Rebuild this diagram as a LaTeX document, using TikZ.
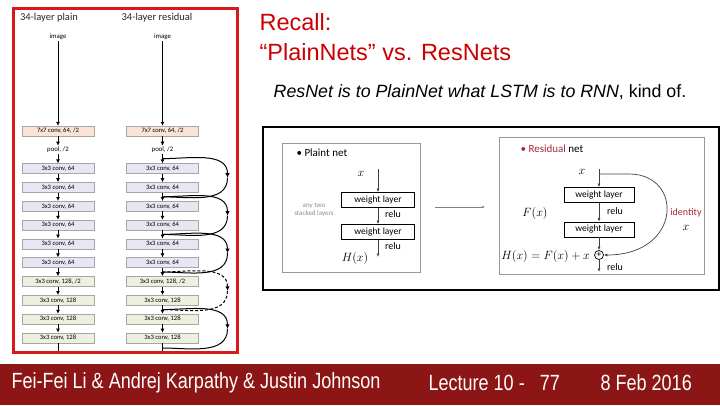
\documentclass[tikz,border=0pt]{standalone}
\usepackage{fontspec}
\setmainfont{Liberation Sans}
\newfontfamily\carlito{Carlito}
\newfontfamily\narrowfont[FakeStretch=0.82]{Liberation Sans}
\usetikzlibrary{arrows.meta,calc}

\definecolor{slidered}{RGB}{204,0,0}
\definecolor{panelred}{RGB}{215,25,25}
\definecolor{barred}{RGB}{140,21,21}
\definecolor{resred}{RGB}{165,40,55}
\definecolor{fillseven}{RGB}{251,228,213}
\definecolor{fillsixtyfour}{RGB}{231,230,242}
\definecolor{filltwentyeight}{RGB}{235,241,222}

\tikzstyle{convbox} = [rectangle, draw=gray!70, minimum width=72pt, minimum height=10pt,
    inner sep=0pt, font=\carlito\fontsize{6.6}{7}\selectfont]
\tikzstyle{conv7} = [convbox, fill=fillseven]
\tikzstyle{conv64} = [convbox, fill=fillsixtyfour]
\tikzstyle{conv128} = [convbox, fill=filltwentyeight]
\tikzstyle{smalltext} = [font=\carlito\fontsize{6.8}{7}\selectfont, inner sep=1pt]
\tikzstyle{coltitle} = [font=\carlito\fontsize{10.5}{12}\selectfont, text=black!85]
\tikzstyle{colarrow} = [-{Latex[length=4pt,width=4pt]}, line width=1pt]
\tikzstyle{skiparrow} = [-{Latex[length=4.5pt,width=4.5pt]}, line width=1pt]
\tikzstyle{skipline} = [line width=1pt]
\tikzstyle{wlayer} = [rectangle, draw, line width=0.8pt, minimum width=73pt, minimum height=15pt,
    inner sep=0pt, font=\carlito\fontsize{9.5}{10}\selectfont]
\tikzstyle{thinarrow} = [-{Latex[length=3.5pt,width=3pt]}, draw=black!75, line width=0.7pt]
\tikzstyle{labeltext} = [font=\carlito\fontsize{10}{11}\selectfont, inner sep=1pt]
\tikzstyle{mathtext} = [font=\fontsize{12}{13}\selectfont, inner sep=1pt]
\tikzstyle{panel} = [draw=gray!80, line width=0.8pt]
\tikzstyle{bartext} = [anchor=west, text=white, font=\narrowfont\fontsize{22}{24}\selectfont]

\begin{document}
\begin{tikzpicture}[x=1pt, y=-1pt, node distance=18.8pt]
    \useasboundingbox (0,0) rectangle (720,405);

    % Left panel: plain column
    \node (ptitle) at (49,18) [coltitle] {34-layer plain};
    \node (pimg) at (58,37) [smalltext] {image};
    \node (p0) at (58,131) [conv7] {7x7 conv, 64, /2};
    \node (ppool) [below of=p0, smalltext] {pool, /2};
    \node (p1) [below of=ppool, conv64] {3x3 conv, 64};
    \node (p2) [below of=p1, conv64] {3x3 conv, 64};
    \node (p3) [below of=p2, conv64] {3x3 conv, 64};
    \node (p4) [below of=p3, conv64] {3x3 conv, 64};
    \node (p5) [below of=p4, conv64] {3x3 conv, 64};
    \node (p6) [below of=p5, conv64] {3x3 conv, 64};
    \node (p7) [below of=p6, conv128] {3x3 conv, 128, /2};
    \node (p8) [below of=p7, conv128] {3x3 conv, 128};
    \node (p9) [below of=p8, conv128] {3x3 conv, 128};
    \node (p10) [below of=p9, conv128] {3x3 conv, 128};
    \coordinate (pend) at (58,351);

    % Left panel: residual column
    \node (rtitle) at (157,18) [coltitle] {34-layer residual};
    \node (rimg) at (162.5,37) [smalltext] {image};
    \node (r0) at (162.5,131) [conv7] {7x7 conv, 64, /2};
    \node (rpool) [below of=r0, smalltext] {pool, /2};
    \node (r1) [below of=rpool, conv64] {3x3 conv, 64};
    \node (r2) [below of=r1, conv64] {3x3 conv, 64};
    \node (r3) [below of=r2, conv64] {3x3 conv, 64};
    \node (r4) [below of=r3, conv64] {3x3 conv, 64};
    \node (r5) [below of=r4, conv64] {3x3 conv, 64};
    \node (r6) [below of=r5, conv64] {3x3 conv, 64};
    \node (r7) [below of=r6, conv128] {3x3 conv, 128, /2};
    \node (r8) [below of=r7, conv128] {3x3 conv, 128};
    \node (r9) [below of=r8, conv128] {3x3 conv, 128};
    \node (r10) [below of=r9, conv128] {3x3 conv, 128};
    \coordinate (rend) at (162.5,351);

    % Shortcut junctions
    \coordinate (j0) at ($(rpool.south)!0.5!(r1.north)$);
    \coordinate (j1) at ($(r2.south)!0.5!(r3.north)$);
    \coordinate (j2) at ($(r4.south)!0.5!(r5.north)$);
    \coordinate (j3) at ($(r6.south)!0.5!(r7.north)$);
    \coordinate (j4) at ($(r8.south)!0.5!(r9.north)$);
    \coordinate (j5) at ($(r10.south)+(0,5)$);
    \coordinate (k0) at ($(j0)!0.5!(j1)+(65,0)$);
    \coordinate (k1) at ($(j1)!0.5!(j2)+(65,0)$);
    \coordinate (k2) at ($(j2)!0.5!(j3)+(65,0)$);
    \coordinate (k3) at ($(j3)!0.5!(j4)+(65,0)$);
    \coordinate (k4) at ($(j4)!0.5!(j5)+(65,0)$);

    % Column arrows
    \draw[colarrow] (pimg) -- (p0);
    \draw[colarrow] (p0) -- (ppool);
    \draw[colarrow] (ppool) -- (p1);
    \draw[colarrow] (p1) -- (p2);
    \draw[colarrow] (p2) -- (p3);
    \draw[colarrow] (p3) -- (p4);
    \draw[colarrow] (p4) -- (p5);
    \draw[colarrow] (p5) -- (p6);
    \draw[colarrow] (p6) -- (p7);
    \draw[colarrow] (p7) -- (p8);
    \draw[colarrow] (p8) -- (p9);
    \draw[colarrow] (p9) -- (p10);
    \draw[skipline] (p10) -- (pend);
    \draw[colarrow] (rimg) -- (r0);
    \draw[colarrow] (r0) -- (rpool);
    \draw[colarrow] (rpool) -- (r1);
    \draw[colarrow] (r1) -- (r2);
    \draw[colarrow] (r2) -- (r3);
    \draw[colarrow] (r3) -- (r4);
    \draw[colarrow] (r4) -- (r5);
    \draw[colarrow] (r5) -- (r6);
    \draw[colarrow] (r6) -- (r7);
    \draw[colarrow] (r7) -- (r8);
    \draw[colarrow] (r8) -- (r9);
    \draw[colarrow] (r9) -- (r10);
    \draw[skipline] (r10) -- (rend);

    % Shortcuts
    \draw[skiparrow] (j0) to[out=0, in=90] (k0);
    \draw[skipline] (k0) to[out=270, in=0] (j1);
    \draw[skiparrow] (j1) to[out=0, in=90] (k1);
    \draw[skipline] (k1) to[out=270, in=0] (j2);
    \draw[skiparrow] (j2) to[out=0, in=90] (k2);
    \draw[skipline] (k2) to[out=270, in=0] (j3);
    \draw[skiparrow, densely dashed] (j3) to[out=0, in=90] (k3);
    \draw[skipline, densely dashed] (k3) to[out=270, in=0] (j4);
    \draw[skiparrow] (j4) to[out=0, in=90] (k4);
    \draw[skipline] (k4) to[out=270, in=0] (j5);

    \draw[panelred, line width=3pt] (13,8) rectangle (237,352);

    % Title
    \node (recall) at (256,22) [anchor=west, text=slidered, font=\fontsize{23.5}{26}\selectfont] {Recall:};
    \node (versus) at (256,52) [anchor=west, text=slidered, font=\fontsize{23.5}{26}\selectfont] {“PlainNets” vs. ResNets};
    \node (analogy) at (480,92) [font=\fontsize{17.8}{20}\selectfont] {\textit{ResNet is to PlainNet what LSTM is to RNN}, kind of.};

    % Inset
    \draw[line width=1.5pt] (263,127) rectangle (719,290);

    % Plain net
    \draw[panel] (282,143) rectangle (420,272);
    \node (phead) at (293,153) [anchor=west, font=\carlito\fontsize{11}{12}\selectfont] {• Plaint net};
    \node (px) at (361,174) [mathtext] {$x$};
    \coordinate (pxtop) at (378,169);
    \node (pw1) at (378,200) [wlayer] {weight layer};
    \node (pw2) at (378,232) [wlayer] {weight layer};
    \coordinate (pout) at (378,257);
    \node (prelu1) at (393,214) [labeltext] {relu};
    \node (prelu2) at (393,246) [labeltext] {relu};
    \node (pH) at (355,258) [mathtext] {$H(x)$};
    \node (ptwo) at (314,210) [align=center, text=gray!90, font=\carlito\fontsize{7}{7.5}\selectfont] {any two\\stacked layers};
    \draw[thinarrow] (pxtop) -- (pw1);
    \draw[thinarrow] (pw1) -- (pw2);
    \draw[thinarrow] (pw2) -- (pout);

    % Between
    \coordinate (gapl) at (435,207);
    \coordinate (gapr) at (485,207);
    \draw[-{Latex[length=3pt,width=2.5pt]}, draw=gray, line width=0.6pt] (gapl) -- (gapr);

    % Residual net
    \draw[panel] (499,137) rectangle (704,274);
    \node (rhead) at (517,149) [anchor=west, font=\carlito\fontsize{11}{12}\selectfont] {{\color{resred}• Residual} net};
    \node (rx) at (582,172) [mathtext] {$x$};
    \coordinate (rsplit) at (599,174);
    \coordinate (rxtop) at (599,169);
    \node (rw1) at (599,195) [wlayer, minimum width=70pt] {weight layer};
    \node (rw2) at (599,229.5) [wlayer, minimum width=70pt] {weight layer};
    \node (plus) at (599,255) [circle, draw, line width=0.7pt, minimum size=9pt, inner sep=0pt, font=\fontsize{9}{9}\selectfont] {+};
    \coordinate (rout) at (599,272);
    \node (rF) at (535,213) [mathtext] {$F(x)$};
    \node (rrelu1) at (615,211) [labeltext] {relu};
    \node (rrelu2) at (615,267) [labeltext] {relu};
    \node (rid) at (686,213) [labeltext, text=resred] {identity};
    \node (rix) at (686,228) [mathtext] {$x$};
    \node (rH) at (591,256) [anchor=east, mathtext, font=\fontsize{12.5}{13}\selectfont] {$H(x) = F(x) + x$};
    \draw[thinarrow] (rxtop) -- (rw1);
    \draw[thinarrow] (rw1) -- (rw2);
    \draw[thinarrow] (rw2) -- (plus);
    \draw[thinarrow] (plus) -- (rout);
    \draw[thinarrow] (rsplit) -- ($(rsplit)+(30,0)$) .. controls +(55,0) and +(78,0) .. (plus.east);

    % Footer
    \fill[barred] (0,364) rectangle (720,405);
    \node (authors) at (8,383) [bartext] {Fei-Fei Li \& Andrej Karpathy \& Justin Johnson};
    \node (lecture) at (425,383) [bartext] {Lecture 10 -\ \ \ 77};
    \node (date) at (597,383) [bartext] {8 Feb 2016};
\end{tikzpicture}
\end{document}
